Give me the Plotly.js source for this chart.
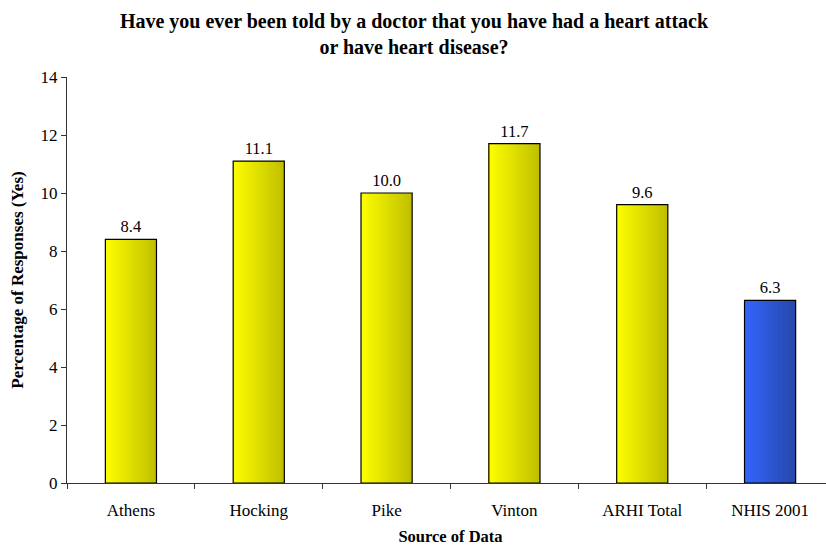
<!DOCTYPE html>
<html>
<head>
<meta charset="utf-8">
<script src="https://cdn.plot.ly/plotly-3.0.1.min.js"></script>
<style>
html,body{margin:0;padding:0;overflow:hidden;background:#fff;}
#chart{width:840px;height:548px;}
</style>
</head>
<body>
<div id="chart"></div>
<script>
// Data
const categories = ["Athens", "Hocking", "Pike", "Vinton", "ARHI Total", "NHIS 2001"];
const percentYes = [8.4, 11.1, 10.0, 11.7, 9.6, 6.3];
const yTickVals = [0, 2, 4, 6, 8, 10, 12, 14];
const chartTitle = "Have you ever been told by a doctor that you have had a heart attack<br>or have heart disease?";
const xTitle = "Source of Data";
const yTitle = "Percentage of Responses (Yes)";

// Styling: gradient endpoints per bar (left bright -> right dark)
const isReference = categories.map(c => c === "NHIS 2001");
const leftYellow = [255, 255, 0], rightYellow = [192, 192, 0];
const leftBlue = [51, 102, 255], rightBlue = [38, 72, 170];

function mix(a, b, t) {
  return "rgb(" + a.map((v, i) => Math.round(v + (b[i] - v) * t)).join(",") + ")";
}

const FONT = "Liberation Serif, Times New Roman, serif";
const BAR_W = 0.4;
const STEPS = 26;
const traces = [];
for (let k = 0; k < STEPS; k++) {
  const frac = 1 - k / STEPS;
  traces.push({
    type: "bar",
    x: categories,
    y: percentYes,
    width: BAR_W * frac,
    offset: -BAR_W / 2,
    marker: {
      color: isReference.map(r => r ? mix(leftBlue, rightBlue, frac) : mix(leftYellow, rightYellow, frac)),
      line: {width: 0}
    },
    hoverinfo: "skip",
    showlegend: false
  });
}
traces.push({
  type: "bar",
  x: categories,
  y: percentYes,
  width: BAR_W,
  offset: -BAR_W / 2,
  marker: {color: "rgba(0,0,0,0)", line: {color: "#000", width: 1.2}},
  text: percentYes.map(v => v.toFixed(1)),
  textposition: "outside",
  textfont: {family: FONT, size: 16.5, color: "#000"},
  constraintext: "none",
  cliponaxis: false,
  showlegend: false
});

const layout = {
  width: 840,
  height: 548,
  margin: {l: 67, r: 6, t: 77, b: 65},
  paper_bgcolor: "#fff",
  plot_bgcolor: "#fff",
  barmode: "overlay",
  font: {family: FONT, size: 17, color: "#000"},
  title: {
    text: chartTitle,
    font: {family: FONT, size: 20, color: "#000", weight: "bold"},
    x: 414 / 840, xref: "container", xanchor: "center",
    y: 1 - 28 / 548, yref: "container", yanchor: "top"
  },
  xaxis: {
    type: "category",
    range: [-0.5, 5.5],
    showline: true, linecolor: "#333", linewidth: 1,
    ticks: "outside", ticklen: 5, tickcolor: "#333",
    tickson: "boundaries",
    ticklabelstandoff: 12,
    showgrid: false, zeroline: false,
    tickfont: {size: 17},
    title: {text: xTitle, font: {size: 16.5, weight: "bold"}, standoff: 11}
  },
  yaxis: {
    range: [0, 14],
    tickvals: yTickVals,
    showline: true, linecolor: "#333", linewidth: 1,
    ticks: "outside", ticklen: 5, tickcolor: "#333",
    showgrid: false, zeroline: false,
    tickfont: {size: 17},
    title: {text: yTitle, font: {size: 17, weight: "bold"}, standoff: 12}
  }
};

Plotly.newPlot("chart", traces, layout, {displayModeBar: false, staticPlot: true});
</script>
</body>
</html>
